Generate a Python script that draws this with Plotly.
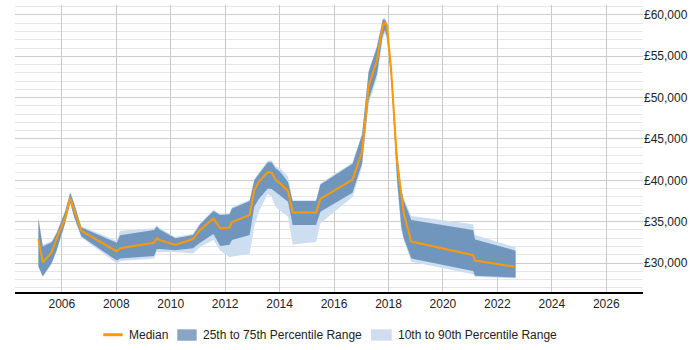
import plotly.graph_objects as go

years = [2005.14, 2005.30, 2005.63, 2005.81, 2006.12, 2006.31, 2006.45, 2006.72, 2008.02, 2008.14,
         2009.39, 2009.49, 2009.58, 2010.17, 2010.82, 2011.08, 2011.57, 2011.82, 2012.16, 2012.25,
         2012.90, 2013.07, 2013.23, 2013.57, 2013.71, 2013.85, 2014.03, 2014.31, 2014.48, 2015.34,
         2015.50, 2016.68, 2017.03, 2017.27, 2017.58, 2017.79, 2017.87, 2017.94, 2018.10, 2018.31,
         2018.47, 2018.56, 2018.84, 2021.11, 2021.18, 2022.67]

median = [32900, 30100, 31300, 33000, 35400, 37900, 36400, 33900, 31400, 31800,
          32450, 33000, 32800, 32200, 32900, 34000, 35400, 34200, 34300, 34950,
          35800, 38800, 39800, 41000, 40900, 40100, 39600, 38750, 36100, 36100,
          37750, 40100, 43450, 51400, 54550, 58700, 59050, 58800, 53300, 42450,
          38400, 36000, 32600, 30950, 30300, 29550]

p75 = [35400, 32000, 32500, 33600, 36200, 38500, 37200, 34300, 32450, 33350,
       34000, 34400, 34100, 33000, 33400, 34700, 36300, 35800, 35900, 36600,
       37500, 40000, 40750, 42200, 42200, 41450, 41000, 39800, 37500, 37500,
       39500, 42000, 45500, 53100, 56150, 59450, 59450, 59000, 53700, 43650,
       38800, 37600, 35200, 34000, 32850, 31500]

p25 = [29600, 28400, 30000, 31550, 34800, 37300, 35600, 33200, 30300, 30550,
       30850, 31700, 31700, 31550, 31800, 32450, 33500, 32050, 32200, 32800,
       33400, 36800, 37700, 39000, 38950, 38600, 38200, 37400, 34600, 34600,
       36200, 38500, 42050, 49700, 52900, 57550, 58150, 57350, 52500, 40400,
       34400, 33000, 30550, 29050, 28450, 28250]

p90 = [35600, 32200, 32700, 33750, 36350, 38650, 37350, 34450, 32700, 33900,
       34200, 34600, 34300, 33150, 33550, 34850, 36450, 35950, 36050, 36750,
       37650, 40150, 40900, 42400, 42400, 41700, 41450, 40450, 37600, 37600,
       39650, 42150, 45650, 53250, 56300, 59600, 59600, 59150, 53850, 43800,
       39000, 37800, 35700, 34700, 33400, 31900]

p10 = [29500, 28300, 29900, 31400, 34700, 37200, 35500, 33100, 29950, 30250,
       30550, 31350, 31350, 31350, 31150, 31950, 32800, 31500, 30700, 30800,
       31100, 34400, 36150, 38400, 38000, 36800, 36300, 35600, 32250, 32550,
       34800, 38000, 41650, 49100, 52400, 57150, 57750, 56950, 51700, 39400,
       34000, 32800, 30150, 28650, 28300, 28150]

x_ticks = [2006, 2008, 2010, 2012, 2014, 2016, 2018, 2020, 2022, 2024, 2026]
legend_labels = ["Median", "25th to 75th Percentile Range", "10th to 90th Percentile Range"]

LIGHT = "rgb(205,222,240)"
DARK = "rgb(113,150,190)"
ORANGE = "rgb(255,153,0)"
LEG_LIGHT = "rgb(206,222,238)"
LEG_DARK = "rgb(136,165,197)"

fig = go.Figure()
fig.add_trace(go.Scatter(x=years, y=p10, mode="lines", line=dict(width=0, color=LIGHT),
                         showlegend=False, hoverinfo="skip"))
fig.add_trace(go.Scatter(x=years, y=p90, mode="lines", line=dict(width=0, color=LIGHT),
                         fill="tonexty", fillcolor=LIGHT, name=legend_labels[2], showlegend=False))
fig.add_trace(go.Scatter(x=years, y=p25, mode="lines", line=dict(width=0, color=DARK),
                         showlegend=False, hoverinfo="skip"))
fig.add_trace(go.Scatter(x=years, y=p75, mode="lines", line=dict(width=0, color=DARK),
                         fill="tonexty", fillcolor=DARK, name=legend_labels[1], showlegend=False))
fig.add_trace(go.Scatter(x=years, y=median, mode="lines", line=dict(width=2, color=ORANGE),
                         name=legend_labels[0], showlegend=False))

# custom legend (paper coordinates)
ly = -0.1488
fig.add_shape(type="line", xref="paper", yref="paper", x0=0.1406, x1=0.1715, y0=ly, y1=ly,
              line=dict(color=ORANGE, width=3))
fig.add_shape(type="rect", xref="paper", yref="paper", x0=0.2584, x1=0.2893, y0=-0.1697, y1=-0.1300,
              line=dict(width=0), fillcolor=LEG_DARK)
fig.add_shape(type="rect", xref="paper", yref="paper", x0=0.5669, x1=0.5998, y0=-0.1697, y1=-0.1300,
              line=dict(width=0), fillcolor=LEG_LIGHT)
for xpos, label in zip([0.1804, 0.2982, 0.6078], legend_labels):
    fig.add_annotation(xref="paper", yref="paper", x=xpos, y=ly, text=label, showarrow=False,
                       xanchor="left", yanchor="middle", xshift=-1,
                       font=dict(size=12, color="#222"))

fig.update_layout(
    width=700, height=350,
    margin=dict(l=15, r=57, t=5, b=58),
    paper_bgcolor="white", plot_bgcolor="white",
    font=dict(family="Liberation Sans, Arial, sans-serif", size=12, color="#222"),
    showlegend=False,
    xaxis=dict(range=[2004.28, 2027.35], tickvals=x_ticks, ticktext=[str(t) for t in x_ticks],
               showgrid=True, gridcolor="#c8c8c8", gridwidth=1,
               showline=True, linecolor="black", linewidth=1.5, ticks="", zeroline=False,
               fixedrange=True),
    yaxis=dict(range=[26500, 61200], side="right", dtick=5000, tick0=0,
               tickprefix="£", tickformat=",d",
               showgrid=True, gridcolor="#cccccc", gridwidth=1, zeroline=False,
               showline=False, ticks="",
               minor=dict(dtick=1000, showgrid=True, gridcolor="#e6e6e6", gridwidth=1),
               fixedrange=True),
)

fig.write_html("out.html")
